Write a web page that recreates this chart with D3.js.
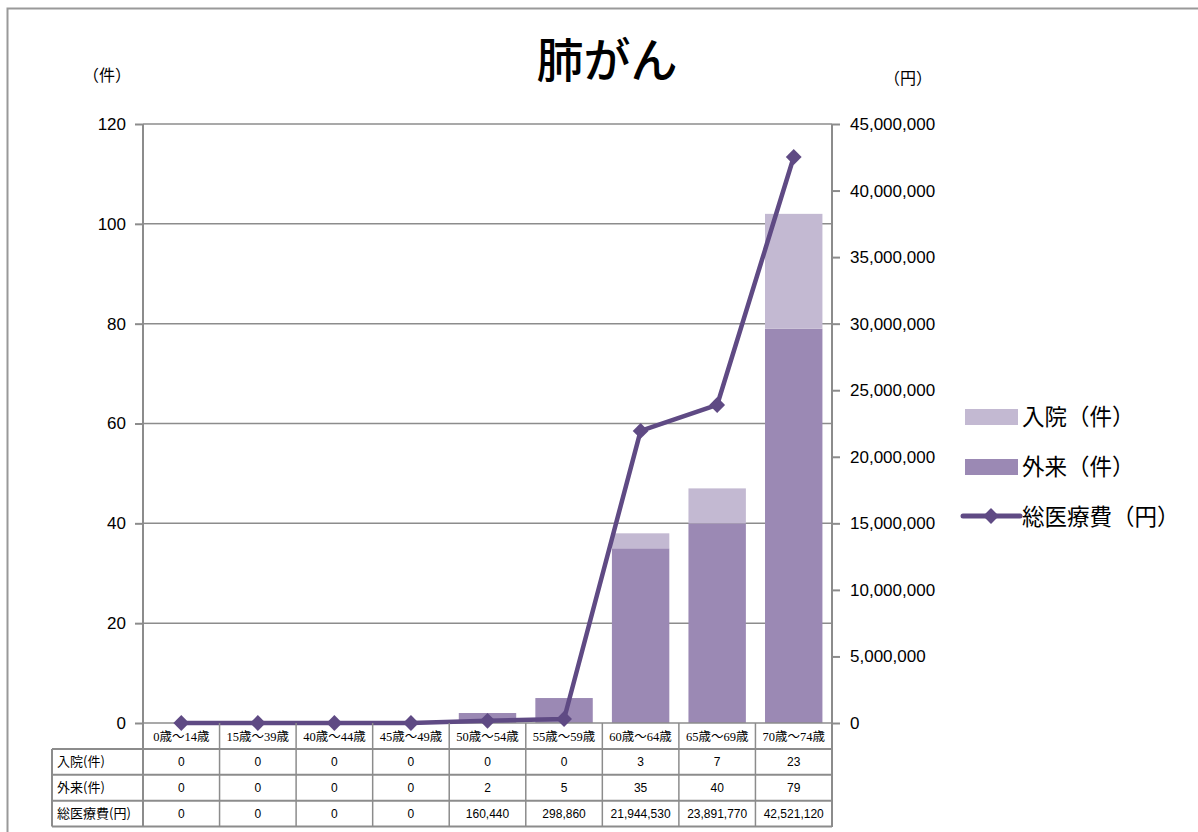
<!DOCTYPE html>
<html><head><meta charset="utf-8">
<script src="https://cdn.jsdelivr.net/npm/d3@7"></script>
<style>
body{margin:0;background:#fff;}
svg{display:block;}
</style></head>
<body>
<svg id="c" width="1198" height="832"></svg>
<script>
const title = "肺がん";
const categories = ["0歳～14歳","15歳～39歳","40歳～44歳","45歳～49歳","50歳～54歳","55歳～59歳","60歳～64歳","65歳～69歳","70歳～74歳"];
const inpatient = [0,0,0,0,0,0,3,7,23];
const outpatient = [0,0,0,0,2,5,35,40,79];
const totalCost = [0,0,0,0,160440,298860,21944530,23891770,42521120];
const seriesNames = ["入院（件）","外来（件）","総医療費（円）"];
const tableRowLabels = ["入院(件)","外来(件)","総医療費(円)"];
const leftTicks = [0,20,40,60,80,100,120];
const rightTicks = [0,5e6,10e6,15e6,20e6,25e6,30e6,35e6,40e6,45e6];

const colIn = "#c3b9d2", colOut = "#9b89b4", colLine = "#5f4a84", gray = "#8c8c8c";
const svg = d3.select("#c");
const L = 143, R = 832, T = 124, B = 723;

const x = d3.scaleBand().domain(categories).range([L, R]).paddingInner(0.25).paddingOuter(0.125);
const yL = d3.scaleLinear().domain([0,120]).range([B, T]);
const yR = d3.scaleLinear().domain([0,45e6]).range([B, T]);

// outer border
svg.append("rect").attr("x",7.5).attr("y",8.5).attr("width",1250).attr("height",900)
  .attr("fill","none").attr("stroke","#999").attr("stroke-width",2);

// title
svg.append("text").attr("x",607).attr("y",77).attr("text-anchor","middle")
  .attr("font-family","'Noto Sans CJK JP'").attr("font-size",47).attr("font-weight",500)
  .attr("fill","#000").text(title);
// unit labels
svg.append("text").attr("x",107).attr("y",81).attr("text-anchor","middle")
  .attr("font-family","'Noto Sans CJK JP'").attr("font-size",16).text("（件）");
svg.append("text").attr("x",908).attr("y",84).attr("text-anchor","middle")
  .attr("font-family","'Noto Sans CJK JP'").attr("font-size",16).text("（円）");

// gridlines
svg.append("g").selectAll("line").data(leftTicks.filter(d=>d>0)).join("line")
  .attr("x1",L).attr("x2",R).attr("y1",d=>yL(d)).attr("y2",d=>yL(d))
  .attr("stroke",gray).attr("stroke-width",1.5);

// left axis
const axL = d3.axisLeft(yL).tickValues(leftTicks).tickSize(8).tickPadding(9).tickFormat(d3.format("d"));
const gL = svg.append("g").attr("transform",`translate(${L},0)`).call(axL);
gL.select(".domain").remove();
gL.selectAll(".tick line").attr("stroke",gray).attr("stroke-width",2);
gL.selectAll("text").attr("font-family","'Liberation Sans', Arial").attr("font-size",17).attr("fill","#000");

// right axis
const axR = d3.axisRight(yR).tickValues(rightTicks).tickSize(8).tickPadding(10).tickFormat(d3.format(","));
const gR = svg.append("g").attr("transform",`translate(${R},0)`).call(axR);
gR.select(".domain").remove();
gR.selectAll(".tick line").attr("stroke",gray).attr("stroke-width",2);
gR.selectAll("text").attr("font-family","'Liberation Sans', Arial").attr("font-size",17).attr("fill","#000");

// bars
const bars = svg.append("g");
bars.selectAll("rect.out").data(categories).join("rect").attr("class","out")
  .attr("x",d=>x(d)).attr("width",x.bandwidth())
  .attr("y",(d,i)=>yL(outpatient[i])).attr("height",(d,i)=>yL(0)-yL(outpatient[i]))
  .attr("fill",colOut);
bars.selectAll("rect.in").data(categories).join("rect").attr("class","in")
  .attr("x",d=>x(d)).attr("width",x.bandwidth())
  .attr("y",(d,i)=>yL(outpatient[i]+inpatient[i])).attr("height",(d,i)=>yL(0)-yL(inpatient[i]))
  .attr("fill",colIn);

// axis lines
svg.append("line").attr("x1",L).attr("x2",L).attr("y1",T).attr("y2",827).attr("stroke",gray).attr("stroke-width",2);
svg.append("line").attr("x1",R).attr("x2",R).attr("y1",T).attr("y2",827).attr("stroke",gray).attr("stroke-width",2);
svg.append("line").attr("x1",L).attr("x2",R).attr("y1",B).attr("y2",B).attr("stroke",gray).attr("stroke-width",1.5);

// line series
const cx = (d)=>x(d)+x.bandwidth()/2;
const line = d3.line().x((d,i)=>cx(categories[i])).y(d=>yR(d));
svg.append("path").datum(totalCost).attr("d",line).attr("fill","none")
  .attr("stroke",colLine).attr("stroke-width",4.5).attr("stroke-linejoin","round");
svg.append("g").selectAll("path").data(totalCost).join("path")
  .attr("transform",(d,i)=>`translate(${cx(categories[i])},${yR(d)}) rotate(45)`)
  .attr("d",d3.symbol().type(d3.symbolSquare).size(125)).attr("fill",colLine);

// table
const rowTop = B, rowH = 25.9, tblLeft = 52;
const tg = svg.append("g");
tg.selectAll("text.cat").data(categories).join("text").attr("class","cat")
  .attr("x",d=>cx(d)).attr("y",rowTop+18).attr("text-anchor","middle")
  .attr("font-family","'Liberation Serif','Noto Sans CJK JP'").attr("font-size",12.5).attr("fill","#000")
  .text(d=>d);
const bounds = categories.map(d=>x(d)-x.step()*x.paddingInner()/2).concat([R]);
tg.selectAll("line.hv").data(bounds).join("line").attr("class","hv")
  .attr("x1",d=>d).attr("x2",d=>d).attr("y1",rowTop).attr("y2",rowTop+rowH*4)
  .attr("stroke",gray).attr("stroke-width",(d,i)=>(i===0||i===bounds.length-1)?2:1.5);
for(let r=1;r<=4;r++){
  tg.append("line").attr("x1",tblLeft).attr("x2",R).attr("y1",rowTop+rowH*r).attr("y2",rowTop+rowH*r)
    .attr("stroke",gray).attr("stroke-width",2);
}
tg.append("line").attr("x1",tblLeft).attr("x2",tblLeft).attr("y1",rowTop+rowH).attr("y2",rowTop+rowH*4)
  .attr("stroke",gray).attr("stroke-width",2);
const rows = [inpatient, outpatient, totalCost];
rows.forEach((vals,r)=>{
  const yy = rowTop+rowH*(r+1)+rowH/2+4.5;
  tg.append("text").attr("x",tblLeft+5).attr("y",yy)
    .attr("font-family","'Noto Sans CJK JP'").attr("font-size",13).attr("fill","#000").text(tableRowLabels[r]);
  tg.selectAll(null).data(vals).join("text")
    .attr("x",(d,i)=>cx(categories[i])).attr("y",yy).attr("text-anchor","middle")
    .attr("font-family","'Liberation Sans', Arial").attr("font-size",12).attr("fill","#000")
    .text(d=>d3.format(",")(d));
});

// legend
const lg = svg.append("g");
const lx = 965;
lg.append("rect").attr("x",lx).attr("y",409).attr("width",53).attr("height",16).attr("fill",colIn);
lg.append("rect").attr("x",lx).attr("y",459).attr("width",53).attr("height",16).attr("fill",colOut);
lg.append("line").attr("x1",lx-2).attr("x2",lx+55).attr("y1",516).attr("y2",516)
  .attr("stroke",colLine).attr("stroke-width",5).attr("stroke-linecap","round");
lg.append("path").attr("transform",`translate(${lx+26},516) rotate(45)`)
  .attr("d",d3.symbol().type(d3.symbolSquare).size(125)).attr("fill",colLine);
[417,467,517].forEach((yy,i)=>{
  lg.append("text").attr("x",1022).attr("y",yy+8).attr("font-family","'Noto Sans CJK JP'")
    .attr("font-size",22.5).attr("fill","#000").text(seriesNames[i]);
});
</script>
</body></html>
